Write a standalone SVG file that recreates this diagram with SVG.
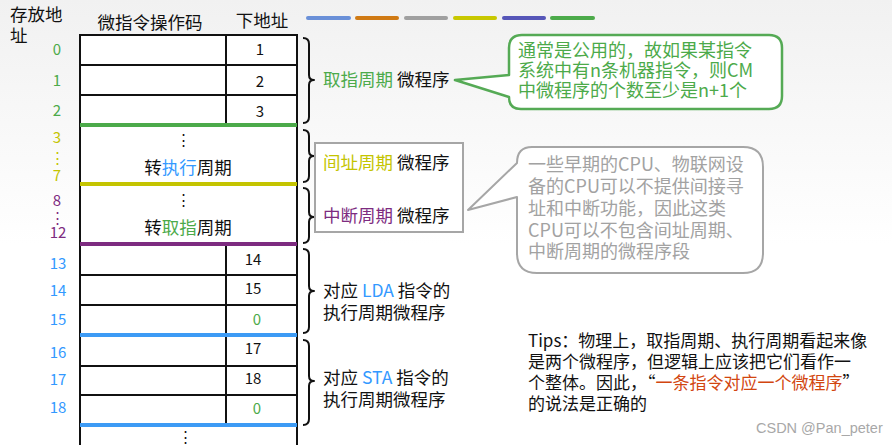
<svg xmlns="http://www.w3.org/2000/svg" width="892" height="445" viewBox="0 0 892 445">
<defs>
<linearGradient id="bg" x1="0" y1="0" x2="0" y2="1">
<stop offset="0" stop-color="#f1f1f1"/>
<stop offset="0.55" stop-color="#ffffff"/>
</linearGradient>
</defs>
<style>
text{font-family:"Noto Sans CJK SC","Noto Sans",sans-serif;}
.t{font-size:17.5px;fill:#111;}
.n{font-size:15px;fill:#111;text-anchor:middle;}
.a{font-size:15px;text-anchor:middle;}
.g{fill:#4caa4a;}
.y{fill:#c4c400;}
.p{fill:#7d2b80;}
.b{fill:#3399ff;}
.o{fill:#d2460f;}
.grey{fill:#a2a2a2;}
.ln{stroke:#111;stroke-width:2;fill:none;}
.br{stroke:#111;stroke-width:2;fill:none;stroke-linejoin:round;}
.leg{stroke-width:4;stroke-linecap:round;}
</style>
<rect width="892" height="445" fill="url(#bg)"/>

<g id="legend">
<line class="leg" x1="308" y1="18" x2="349" y2="18" stroke="#6a90d8"/>
<line class="leg" x1="357" y1="18" x2="397" y2="18" stroke="#d07a14"/>
<line class="leg" x1="406" y1="18" x2="446" y2="18" stroke="#a0a0a0"/>
<line class="leg" x1="455" y1="18" x2="495" y2="18" stroke="#c8c800"/>
<line class="leg" x1="504" y1="18" x2="544" y2="18" stroke="#5656b8"/>
<line class="leg" x1="552" y1="18" x2="593" y2="18" stroke="#4caa4a"/>
</g>

<g id="headers">
<text class="t" x="10" y="21">存放地</text>
<text class="t" x="10" y="42">址</text>
<text class="t" x="150" y="29" text-anchor="middle">微指令操作码</text>
<text class="t" x="262" y="27" text-anchor="middle">下地址</text>
</g>

<g id="table">
<rect x="80" y="35" width="217" height="410" fill="#fff"/>
<line class="ln" x1="80" y1="34" x2="80" y2="445"/>
<line class="ln" x1="297" y1="34" x2="297" y2="445"/>
<line class="ln" x1="79" y1="35" x2="298" y2="35"/>
<line class="ln" x1="80" y1="65" x2="297" y2="65"/>
<line class="ln" x1="80" y1="95" x2="297" y2="95"/>
<line class="ln" x1="226" y1="35" x2="226" y2="123"/>
<line class="ln" x1="80" y1="275" x2="297" y2="275"/>
<line class="ln" x1="80" y1="305" x2="297" y2="305"/>
<line class="ln" x1="80" y1="366" x2="297" y2="366"/>
<line class="ln" x1="80" y1="395" x2="297" y2="395"/>
<line class="ln" x1="226" y1="246" x2="226" y2="423"/>
<rect x="80" y="123" width="217" height="4" fill="#4caa4a"/>
<rect x="80" y="182" width="217" height="4" fill="#c4c400"/>
<rect x="80" y="242" width="217" height="4" fill="#7d2b80"/>
<rect x="80" y="333" width="217" height="4" fill="#3d9bf5"/>
<rect x="80" y="423" width="217" height="4" fill="#3d9bf5"/>
</g>

<g id="next-addresses">
<text class="n" x="260" y="55">1</text>
<text class="n" x="260" y="87">2</text>
<text class="n" x="260" y="117">3</text>
<text class="n" x="253" y="265">14</text>
<text class="n" x="253" y="294">15</text>
<text class="n g" x="257" y="325">0</text>
<text class="n" x="253" y="354">17</text>
<text class="n" x="253" y="384">18</text>
<text class="n g" x="257" y="414">0</text>
</g>

<g id="blocks">
<text class="n" x="183" y="145">⋮</text>
<text class="t" x="188" y="174" text-anchor="middle">转<tspan class="b">执行</tspan>周期</text>
<text class="n" x="183" y="205">⋮</text>
<text class="t" x="188" y="234" text-anchor="middle">转<tspan class="g">取指</tspan>周期</text>
<text class="n" x="185" y="442">⋮</text>
</g>

<g id="addresses">
<text class="a g" x="57" y="55">0</text>
<text class="a g" x="57" y="86">1</text>
<text class="a g" x="57" y="116">2</text>
<text class="a y" x="57" y="143">3</text>
<text class="a y" x="57" y="163">⋮</text>
<text class="a y" x="57" y="181">7</text>
<text class="a p" x="57" y="206">8</text>
<text class="a p" x="57" y="223">⋮</text>
<text class="a p" x="58" y="238">12</text>
<text class="a b" x="58" y="269">13</text>
<text class="a b" x="58" y="296">14</text>
<text class="a b" x="58" y="325">15</text>
<text class="a b" x="58" y="358">16</text>
<text class="a b" x="58" y="385">17</text>
<text class="a b" x="58" y="413">18</text>
</g>

<g id="connectors">
<path class="br" d="M303,38 Q309,38 309,44 L309,75 Q309,80 314,80 Q309,80 309,85 L309,117 Q309,123 303,123"/>
<path class="br" d="M303,130 Q309,130 309,136 L309,151 Q309,156 314,156 Q309,156 309,161 L309,176 Q309,182 303,182"/>
<path class="br" d="M303,188 Q309,188 309,194 L309,212 Q309,217 314,217 Q309,217 309,222 L309,237 Q309,243 303,243"/>
<path class="br" d="M303,249 Q309,249 309,255 L309,286 Q309,291 314,291 Q309,291 309,296 L309,327 Q309,333 303,333"/>
<path class="br" d="M303,340 Q309,340 309,346 L309,376 Q309,381 314,381 Q309,381 309,386 L309,419 Q309,425 303,425"/>
</g>

<g id="fetch-label">
<text class="t" x="323" y="86"><tspan class="g">取指周期</tspan> 微程序</text>
</g>

<g id="indirect-interrupt-box">
<rect x="315" y="143" width="148" height="89" fill="#fff" stroke="#a6a6a6" stroke-width="2"/>
<text class="t" x="323" y="169"><tspan class="y">间址周期</tspan> 微程序</text>
<text class="t" x="323" y="222"><tspan class="p">中断周期</tspan> 微程序</text>
</g>

<g id="lda-label">
<text class="t" x="323" y="297">对应 <tspan class="b">LDA</tspan> 指令的</text>
<text class="t" x="323" y="319">执行周期微程序</text>
</g>
<g id="sta-label">
<text class="t" x="323" y="384">对应 <tspan class="b">STA</tspan> 指令的</text>
<text class="t" x="323" y="406">执行周期微程序</text>
</g>

<g id="green-callout">
<path d="M522,35 H769 Q782,35 782,48 V96 Q782,109 769,109 H521 Q509,109 509,97 L455,80 L509,75 V48 Q509,35 522,35 Z" fill="#fff" stroke="#55aa55" stroke-width="2.5" stroke-linejoin="round"/>
<text class="g" style="font-size:18px" x="518" y="57">通常是公用的，故如果某指令</text>
<text class="g" style="font-size:18px" x="518" y="77">系统中有n条机器指令，则CM</text>
<text class="g" style="font-size:18px" x="518" y="97">中微程序的个数至少是n+1个</text>
</g>

<g id="grey-callout">
<path d="M532,147 H743 Q763,147 763,167 V253 Q763,273 743,273 H537 Q517,273 517,253 V197 L468,210 L517,163 Q517,147 532,147 Z" fill="#fff" stroke="#a6a6a6" stroke-width="2" stroke-linejoin="round"/>
<text class="grey" style="font-size:18px" x="528" y="171">一些早期的CPU、物联网设</text>
<text class="grey" style="font-size:18px" x="528" y="193">备的CPU可以不提供间接寻</text>
<text class="grey" style="font-size:18px" x="528" y="215">址和中断功能，因此这类</text>
<text class="grey" style="font-size:18px" x="528" y="237">CPU可以不包含间址周期、</text>
<text class="grey" style="font-size:18px" x="528" y="258">中断周期的微程序段</text>
</g>

<g id="tips">
<text style="font-size:17px;fill:#111" x="528" y="347">Tips：物理上，取指周期、执行周期看起来像</text>
<text style="font-size:17px;fill:#111" x="528" y="368">是两个微程序，但逻辑上应该把它们看作一</text>
<text style="font-size:17px;fill:#111" x="528" y="389">个整体。因此，“<tspan class="o">一条指令对应一个微程序</tspan>”</text>
<text style="font-size:17px;fill:#111" x="528" y="410">的说法是正确的</text>
</g>

<g id="watermark">
<text x="756" y="433" style="font-family:'Liberation Sans',Arial,sans-serif;font-size:14.5px;fill:#a8a8a8">CSDN @Pan_peter</text>
</g>
</svg>
